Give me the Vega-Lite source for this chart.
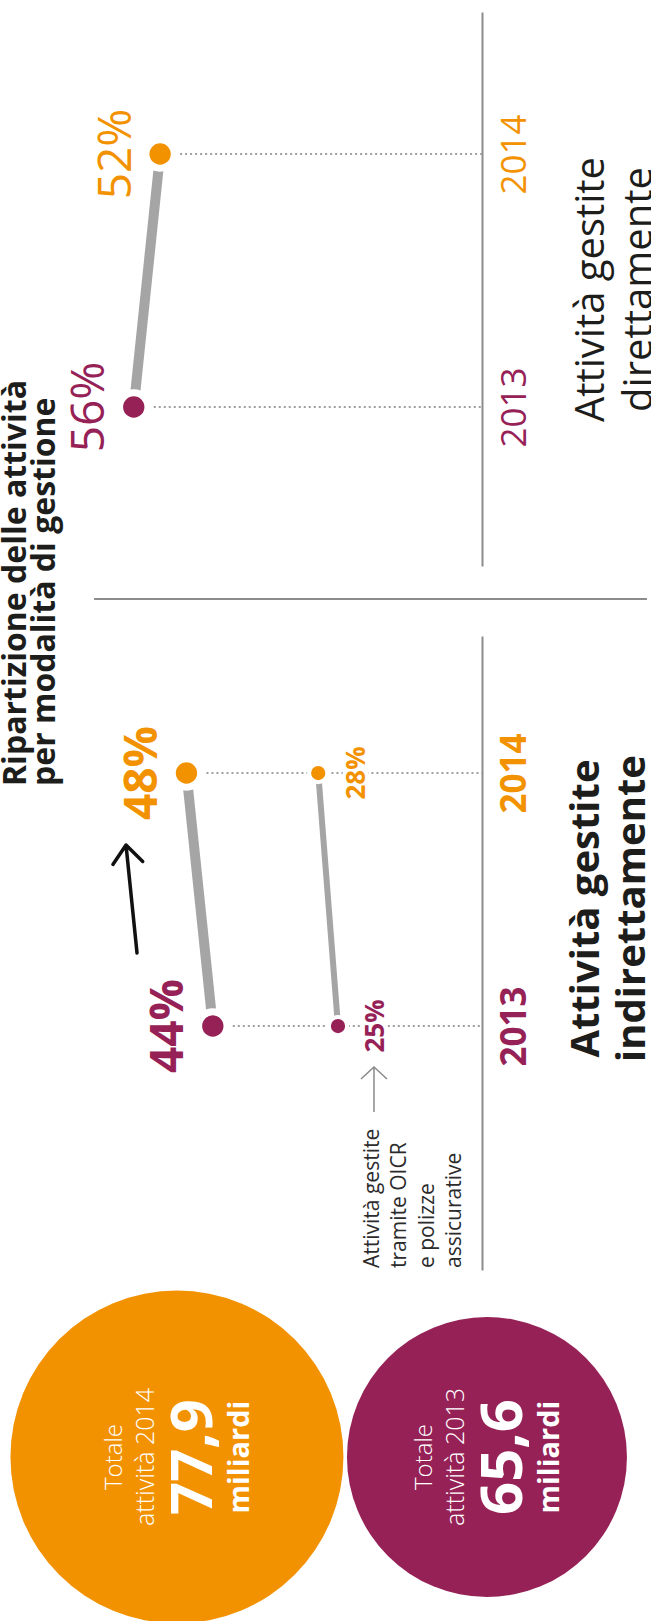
{
  "$schema": "https://vega.github.io/schema/vega-lite/v6.json",
  "padding": {"left": 0, "top": 12, "right": 0, "bottom": 0},
  "autosize": {"type": "pad"},
  "background": "white",
  "bounds": "flush",
  "spacing": 70,
  "config": {
    "font": "Open Sans",
    "view": {"stroke": null},
    "locale": {"number": {"decimal": ",", "thousands": ".", "grouping": [3], "currency": ["€", ""]}}
  },
  "datasets": {
    "quote": [
      {"gestione": "Diretta", "serie": "Totale", "anno": 2013, "quota": 0.56},
      {"gestione": "Diretta", "serie": "Totale", "anno": 2014, "quota": 0.52},
      {"gestione": "Indiretta", "serie": "Totale", "anno": 2013, "quota": 0.44},
      {"gestione": "Indiretta", "serie": "Totale", "anno": 2014, "quota": 0.48},
      {"gestione": "Indiretta", "serie": "OICR e polizze", "anno": 2013, "quota": 0.25},
      {"gestione": "Indiretta", "serie": "OICR e polizze", "anno": 2014, "quota": 0.28}
    ],
    "totali": [
      {"anno": 2014, "totale": 77.9},
      {"anno": 2013, "totale": 65.6}
    ]
  },
  "resolve": {"scale": {"x": "independent", "y": "independent"}},
  "vconcat": [
    {
      "width": 481,
      "height": 554,
      "data": {"name": "quote"},
      "transform": [{"filter": "datum.gestione == 'Diretta'"}],
      "encoding": {
        "x": {"field": "quota", "type": "quantitative", "scale": {"domain": [0, 0.6], "range": [501.7, 106.4], "zero": false, "nice": false}, "axis": null},
        "y": {"field": "anno", "type": "quantitative", "scale": {"domain": [2012.3716, 2014.5613], "zero": false, "nice": false},
          "axis": {"orient": "right", "values": [2013, 2014], "format": "d", "ticks": false, "tickSize": 0, "grid": false,
            "domainColor": "#8c8c8c", "domainWidth": 2,
            "labelAngle": 270, "labelAlign": "center", "labelBaseline": "middle", "labelPadding": 32, "labelFontSize": 35, "labelFontWeight": "normal",
            "labelColor": {"condition": {"test": "datum.value == 2014", "value": "#F39200"}, "value": "#962156"},
            "labelOverlap": false, "labelFlush": false, "labelBound": false,
            "title": ["Attività gestite", "direttamente"], "titleAngle": 270, "titleAlign": "center", "titleBaseline": "top",
            "titleFontSize": 40, "titleFontWeight": "normal", "titleColor": "#1d1d1b", "titleLineHeight": 48, "titlePadding": -9}}
      },
      "layer": [
        {"mark": {"type": "rule", "strokeDash": [2, 3], "strokeWidth": 2, "color": "#a0a0a0"}, "encoding": {"x2": {"value": "width"}}},
        {"mark": {"type": "line", "color": "#a5a5a5", "strokeWidth": 10, "strokeCap": "butt"}, "encoding": {"detail": {"field": "serie"}}},
        {"mark": {"type": "point", "shape": "circle", "filled": true, "opacity": 1, "size": 804, "stroke": "white", "strokeWidth": 7},
          "encoding": {"color": {"field": "anno", "type": "nominal", "scale": {"domain": [2013, 2014], "range": ["#962156", "#F39200"]}, "legend": null}}},
        {"mark": {"type": "text", "angle": 270, "align": "center", "baseline": "middle", "dy": -43.5, "fontSize": 46},
          "encoding": {"text": {"field": "quota", "type": "quantitative", "format": ".0%"},
            "color": {"field": "anno", "type": "nominal", "scale": {"domain": [2013, 2014], "range": ["#962156", "#F39200"]}, "legend": null}}},
        {"transform": [{"filter": "datum.anno == 2013"}],
          "mark": {"type": "text", "text": ["Ripartizione delle attività", "per modalità di gestione"], "angle": 270, "align": "left", "baseline": "top", "dx": -379, "dy": -132.7, "fontSize": 32, "fontWeight": "bold", "lineHeight": 29, "color": "#1d1d1b"}},
        {"transform": [{"filter": "datum.anno == 2013"}],
          "mark": {"type": "point", "shape": "M -0.1323 0.64 L 1.7107 0.64", "filled": false, "opacity": 1, "size": 360000, "stroke": "#8c8c8c", "strokeWidth": 2}}
      ]
    },
    {
      "width": 481,
      "height": 634,
      "data": {"name": "quote"},
      "transform": [{"filter": "datum.gestione == 'Indiretta'"}],
      "encoding": {
        "x": {"field": "quota", "type": "quantitative", "scale": {"domain": [0, 0.6], "range": [501.7, 106.4], "zero": false, "nice": false}, "axis": null},
        "y": {"field": "anno", "type": "quantitative", "scale": {"domain": [2012.0356, 2014.5415], "zero": false, "nice": false},
          "axis": {"orient": "right", "values": [2013, 2014], "format": "d", "ticks": false, "tickSize": 0, "grid": false,
            "domainColor": "#8c8c8c", "domainWidth": 2,
            "labelAngle": 270, "labelAlign": "center", "labelBaseline": "middle", "labelPadding": 32, "labelFontSize": 35, "labelFontWeight": "bold",
            "labelColor": {"condition": {"test": "datum.value == 2014", "value": "#F39200"}, "value": "#962156"},
            "labelOverlap": false, "labelFlush": false, "labelBound": false,
            "title": ["Attività gestite", "indirettamente"], "titleAngle": 270, "titleAlign": "center", "titleBaseline": "top",
            "titleFontSize": 40, "titleFontWeight": "bold", "titleColor": "#1d1d1b", "titleLineHeight": 46, "titlePadding": -12, "titleY": 272}}
      },
      "layer": [
        {"transform": [{"filter": "datum.serie == 'Totale'"}],
          "mark": {"type": "rule", "strokeDash": [2, 3], "strokeWidth": 2, "color": "#a0a0a0"}, "encoding": {"x2": {"value": "width"}}},
        {"mark": {"type": "line", "color": "#a5a5a5", "strokeCap": "butt"},
          "encoding": {"detail": {"field": "serie"},
            "strokeWidth": {"field": "serie", "type": "nominal", "scale": {"domain": ["Totale", "OICR e polizze"], "range": [10, 6]}, "legend": null}}},
        {"transform": [{"filter": "datum.serie == 'Totale'"}],
          "mark": {"type": "point", "shape": "circle", "filled": true, "opacity": 1, "size": 804, "stroke": "white", "strokeWidth": 7},
          "encoding": {"color": {"field": "anno", "type": "nominal", "scale": {"domain": [2013, 2014], "range": ["#962156", "#F39200"]}, "legend": null}}},
        {"transform": [{"filter": "datum.serie != 'Totale'"}],
          "mark": {"type": "point", "shape": "circle", "filled": true, "opacity": 1, "size": 333, "stroke": "white", "strokeWidth": 4},
          "encoding": {"color": {"field": "anno", "type": "nominal", "scale": {"domain": [2013, 2014], "range": ["#962156", "#F39200"]}, "legend": null}}},
        {"transform": [{"filter": "datum.serie == 'Totale'"}],
          "mark": {"type": "text", "angle": 270, "align": "center", "baseline": "middle", "dy": -43.5, "fontSize": 46, "fontWeight": "bold"},
          "encoding": {"text": {"field": "quota", "type": "quantitative", "format": ".0%"},
            "color": {"field": "anno", "type": "nominal", "scale": {"domain": [2013, 2014], "range": ["#962156", "#F39200"]}, "legend": null}}},
        {"transform": [{"filter": "datum.serie != 'Totale'"}],
          "mark": {"type": "text", "angle": 270, "align": "center", "baseline": "middle", "dy": 38.5, "fontSize": 26, "fontWeight": "bold", "color": "white", "stroke": "white", "strokeWidth": 8, "strokeJoin": "round"},
          "encoding": {"text": {"field": "quota", "type": "quantitative", "format": ".0%"}}},
        {"transform": [{"filter": "datum.serie != 'Totale'"}],
          "mark": {"type": "text", "angle": 270, "align": "center", "baseline": "middle", "dy": 38.5, "fontSize": 26, "fontWeight": "bold"},
          "encoding": {"text": {"field": "quota", "type": "quantitative", "format": ".0%"},
            "color": {"field": "anno", "type": "nominal", "scale": {"domain": [2013, 2014], "range": ["#962156", "#F39200"]}, "legend": null}}},
        {"transform": [{"filter": "datum.serie != 'Totale' && datum.anno == 2013"}],
          "mark": {"type": "text", "text": ["Attività gestite", "tramite OICR", "e polizze", "assicurative"], "angle": 270, "align": "left", "baseline": "alphabetic", "dx": -242, "dy": 41, "fontSize": 21, "lineHeight": 27.3, "color": "#2b2b2b"}},
        {"transform": [{"filter": "datum.serie != 'Totale' && datum.anno == 2013"}],
          "mark": {"type": "point", "shape": "M 0.72 1.72 L 0.72 0.82 M 0.46 1.06 L 0.72 0.82 L 0.98 1.06", "filled": false, "opacity": 1, "size": 10000, "stroke": "#8a8a8a", "strokeWidth": 1.5}},
        {"transform": [{"filter": "datum.serie == 'Totale' && datum.anno == 2013"}],
          "mark": {"type": "point", "shape": "M -0.758 -0.73 L -0.868 -1.81 M -0.999 -1.616 L -0.868 -1.81 L -0.701 -1.646", "filled": false, "opacity": 1, "size": 40000, "stroke": "#111111", "strokeWidth": 3.5, "strokeCap": "round", "strokeJoin": "round"}}
      ]
    },
    {
      "width": 651,
      "height": 234,
      "data": {"name": "totali"},
      "transform": [{"calculate": "'attività ' + datum.anno", "as": "etichetta"}],
      "encoding": {
        "x": {"field": "anno", "type": "ordinal", "sort": "descending", "scale": {"type": "point", "padding": 0.55, "align": 0.516}, "axis": null}
      },
      "layer": [
        {"mark": {"type": "point", "shape": "circle", "filled": true, "opacity": 1},
          "encoding": {
            "size": {"field": "totale", "type": "quantitative", "scale": {"type": "linear", "domain": [35.92, 77.9], "range": [0, 110889], "nice": false, "zero": false}, "legend": null},
            "color": {"field": "anno", "type": "nominal", "scale": {"domain": [2013, 2014], "range": ["#962156", "#F39200"]}, "legend": null}}},
        {"mark": {"type": "text", "text": "Totale", "angle": 270, "align": "center", "baseline": "middle", "dy": -62, "fontSize": 24, "fontWeight": 300, "color": "white"}},
        {"mark": {"type": "text", "angle": 270, "align": "center", "baseline": "middle", "dy": -31, "fontSize": 25, "fontWeight": 300, "color": "white"},
          "encoding": {"text": {"field": "etichetta", "type": "nominal"}}},
        {"mark": {"type": "text", "angle": 270, "align": "center", "baseline": "middle", "dy": 18, "fontSize": 58, "fontWeight": "bold", "color": "white"},
          "encoding": {"text": {"field": "totale", "type": "quantitative", "format": ".1f"}}},
        {"mark": {"type": "text", "text": "miliardi", "angle": 270, "align": "center", "baseline": "middle", "dy": 63, "fontSize": 29, "fontWeight": "bold", "color": "white"}}
      ]
    }
  ]
}
